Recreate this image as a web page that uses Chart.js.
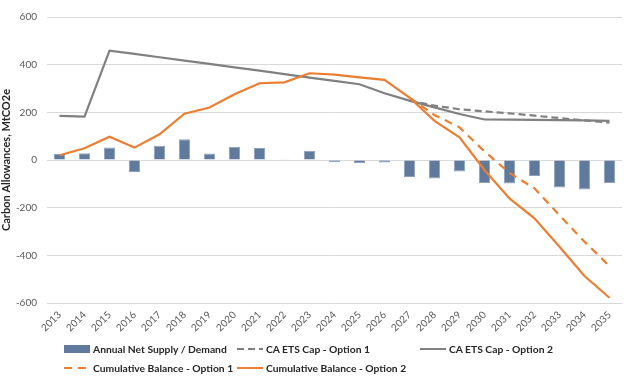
<!DOCTYPE html>
<html>
<head>
<meta charset="utf-8">
<script src="https://cdn.jsdelivr.net/npm/chart.js@4/dist/chart.umd.min.js"></script>
<style>
  html, body { margin: 0; padding: 0; background: #fff; }
  #wrap { position: relative; width: 624px; height: 380px; overflow: hidden; }
  #legend { position: absolute; left: 0; top: 0; width: 624px; height: 380px; pointer-events: none;
            font-family: Lato, "Open Sans", sans-serif; font-weight: bold; font-size: 10.3px; color: #262626; }
  .item { position: absolute; display: flex; align-items: center; height: 14px; white-space: nowrap; }
  .item svg { margin-right: 3px; }
</style>
</head>
<body>
<div id="wrap">
  <canvas id="c" width="624" height="380"></canvas>
  <div id="legend"></div>
</div>
<script>
const years = ['2013','2014','2015','2016','2017','2018','2019','2020','2021','2022','2023','2024',
               '2025','2026','2027','2028','2029','2030','2031','2032','2033','2034','2035'];
const netSupply = [25, 28, 52, -50, 60, 87, 27, 56, 50, 3, 39, -8, -14, -10, -71, -78, -48, -96, -99, -67, -115, -124, -96];
const capOption1 = [null, null, null, null, null, null, null, null, null, null, null, null, null, null,
                    249, 228, 213, 204, 196, 186, 176, 166, 157];
const capOption2 = [185, 182, 459, 445, 431, 417, 403, 389, 375, 360, 346, 332, 318, 280, 249, 221, 193, 170, 169, 168, 167, 166, 164];
const cumOption1 = [null, null, null, null, null, null, null, null, null, null, null, null, null, null,
                    262, 189, 137, 36, -54, -119, -232, -343, -445];
const cumOption2 = [20, 49, 98, 52, 108, 194, 220, 276, 322, 326, 364, 358, 347, 336, 262, 164, 95, -42, -161, -245, -364, -487, -578];
const seriesNames = ['Annual Net Supply / Demand', 'CA ETS Cap - Option 1', 'CA ETS Cap - Option 2',
                     'Cumulative Balance - Option 1', 'Cumulative Balance - Option 2'];
const yMin = -600, yMax = 600, yStep = 200;
const yTitle = 'Carbon Allowances, MtCO2e';

const GRAY = '#808080', ORANGE = '#ED7D31', BLUE = '#607a9e';
const FONT = 'Lato, "Open Sans", sans-serif';

const chart = new Chart(document.getElementById('c'), {
  data: {
    labels: years,
    datasets: [
      { type: 'bar', label: seriesNames[0], data: netSupply, backgroundColor: BLUE,
        borderColor: '#8ea1bb', borderWidth: 1, barPercentage: 0.45, categoryPercentage: 1, order: 10 },
      { type: 'line', label: seriesNames[1], data: capOption1, borderColor: GRAY, borderWidth: 2.2,
        borderDash: [7, 4], pointRadius: 0, tension: 0, fill: false, order: 4 },
      { type: 'line', label: seriesNames[2], data: capOption2, borderColor: GRAY, borderWidth: 2.2,
        pointRadius: 0, tension: 0, fill: false, order: 3 },
      { type: 'line', label: seriesNames[3], data: cumOption1, borderColor: ORANGE, borderWidth: 2.2,
        borderDash: [8, 6], pointRadius: 0, tension: 0, fill: false, order: 2 },
      { type: 'line', label: seriesNames[4], data: cumOption2, borderColor: ORANGE, borderWidth: 2.2,
        pointRadius: 0, tension: 0, fill: false, order: 1 }
    ]
  },
  options: {
    responsive: false,
    maintainAspectRatio: false,
    devicePixelRatio: 1,
    animation: false,
    layout: { padding: { left: 0, right: 2, top: 17, bottom: 0 } },
    plugins: { legend: { display: false }, tooltip: { enabled: false } },
    scales: {
      x: {
        offset: true,
        grid: { display: false, drawTicks: false },
        border: { display: false },
        ticks: { minRotation: 45, maxRotation: 45, autoSkip: false, padding: 6,
                 color: '#595959', font: { family: FONT, size: 10 } },
        afterFit: (s) => { s.height = 77; }
      },
      y: {
        min: yMin, max: yMax,
        ticks: { stepSize: yStep, padding: 10, color: '#595959', font: { family: FONT, size: 10 } },
        grid: { color: '#d9d9d9', lineWidth: 1, drawTicks: false },
        border: { display: false },
        title: { display: true, text: yTitle, color: '#262626', padding: { top: 0, bottom: 4 },
                 font: { family: FONT, size: 11, weight: 'bold' } },
        afterFit: (s) => { s.width = 47; }
      }
    }
  }
});

// HTML legend built from the chart's datasets
const legendSlots = [
  { left: 64, top: 342 }, { left: 237, top: 342 }, { left: 420, top: 342 },
  { left: 64, top: 361 }, { left: 237, top: 361 }
];
const legend = document.getElementById('legend');
chart.data.datasets.forEach((ds, i) => {
  const slot = legendSlots[i];
  const item = document.createElement('div');
  item.className = 'item';
  item.style.left = slot.left + 'px';
  item.style.top = slot.top + 'px';
  let sym;
  if (ds.type === 'bar') {
    sym = '<svg width="26" height="10"><rect x="0" y="1" width="26" height="8" fill="' + ds.backgroundColor + '"/></svg>';
  } else {
    const dash = ds.borderDash ? (' stroke-dasharray="' + ds.borderDash.join(',') + '"') : '';
    sym = '<svg width="26" height="10"><line x1="0" y1="5" x2="26" y2="5" stroke="' + ds.borderColor +
          '" stroke-width="2"' + dash + '/></svg>';
  }
  item.innerHTML = sym + '<span>' + ds.label + '</span>';
  legend.appendChild(item);
});
</script>
</body>
</html>
